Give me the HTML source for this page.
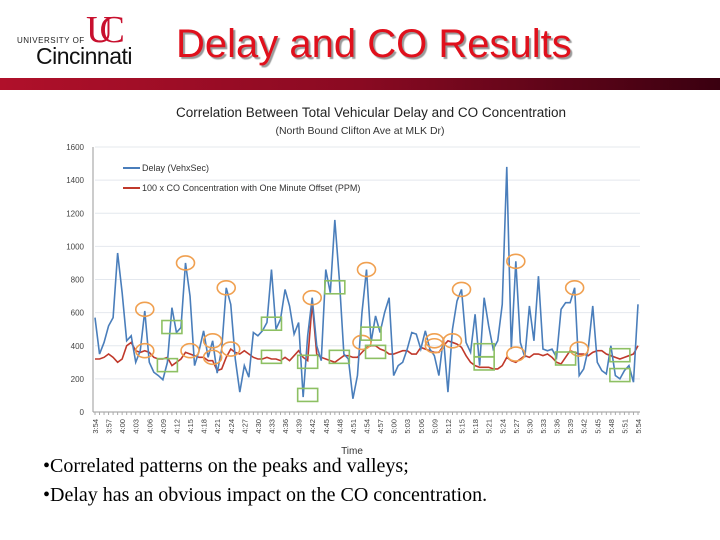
<!DOCTYPE html>
<html><head><meta charset="utf-8">
<style>
body{margin:0;width:720px;height:540px;background:#fff;overflow:hidden;position:relative;font-family:"Liberation Sans",sans-serif}
.abs{position:absolute}
</style></head><body>
<div class="abs" style="left:17px;top:36px;font-size:8px;letter-spacing:0.5px;color:#222">UNIVERSITY OF</div>
<div class="abs" style="left:36px;top:43px;font-size:23px;color:#111;letter-spacing:-0.5px">Cincinnati</div>
<div class="abs" style="left:86px;top:8px;font-family:'Liberation Serif',serif;font-size:38px;color:#c8102e;letter-spacing:-14px">UC</div>
<div class="abs" style="left:176px;top:22px;font-size:40px;color:#e0101c;text-shadow:2px 2px 1px #999">Delay and CO Results</div>
<div class="abs" style="left:0;top:78px;width:720px;height:12px;background:linear-gradient(90deg,#b0102a,#8a0a22 50%,#3a0010)"></div>
<svg class="abs" style="left:0;top:0" width="720" height="540" id="chart"></svg>
<div class="abs" style="left:43px;top:455px;font-family:'Liberation Serif',serif;font-size:20px;color:#000">•Correlated patterns on the peaks and valleys;</div>
<div class="abs" style="left:43px;top:484px;font-family:'Liberation Serif',serif;font-size:20px;color:#000">•Delay has an obvious impact on the CO concentration.</div>
<script>
const delay=[570,350,420,520,570,960,720,430,460,300,
370,610,300,240,220,195,300,630,480,510,
900,700,280,370,490,330,430,235,380,750,
650,320,120,280,210,480,460,490,540,860,
500,560,740,640,470,540,90,460,690,400,
310,860,720,1160,800,350,320,80,220,600,
860,420,580,480,600,690,220,280,300,380,
480,470,380,490,380,340,220,450,120,500,
670,740,420,360,590,280,690,520,380,430,
650,1480,380,910,420,330,640,430,820,380,
370,380,330,620,660,660,750,220,260,380,
640,300,250,230,400,220,200,250,280,180,
650];
const co=[320,320,330,350,330,300,320,400,420,370,
360,370,360,330,320,320,330,280,300,320,
360,350,340,330,330,310,310,250,260,330,
380,360,350,370,350,330,320,320,330,320,
320,310,330,310,340,370,330,310,660,350,
330,320,310,300,320,340,340,330,330,360,
390,400,400,380,370,350,350,360,370,370,
350,350,390,380,370,360,360,400,430,420,
410,390,340,300,280,270,270,270,260,260,
280,330,310,300,320,340,330,350,350,340,
350,330,300,290,330,370,360,350,350,340,
360,370,370,350,340,330,320,330,340,350,
400];
const yTicks=[0,200,400,600,800,1000,1200,1400,1600];
const xTickLabels=["3:54","3:57","4:00","4:03","4:06","4:09","4:12","4:15","4:18","4:21","4:24","4:27","4:30","4:33","4:36","4:39","4:42","4:45","4:48","4:51","4:54","4:57","5:00","5:03","5:06","5:09","5:12","5:15","5:18","5:21","5:24","5:27","5:30","5:33","5:36","5:39","5:42","5:45","5:48","5:51","5:54"];
const circles=[[11,620],[20,900],[29,750],[48,690],[60,860],[81,740],[93,910],[106,750],[11,370],[21,370],[26,430],[26,330],[30,380],[59,420],[75,400],[75,430],[79,430],[93,350],[107,380]];
const boxes=[[17,510],[16,280],[39,530],[39,330],[47,300],[47,100],[53,750],[54,330],[61,470],[62,360],[86,370],[86,290],[104,320],[116,340],[116,220]];
const NS="http://www.w3.org/2000/svg";
const svg=document.getElementById('chart');
const X0=95,X1=638,Y0=412,Y1=147,VMAX=1600;
const x=i=>X0+i*(X1-X0)/(delay.length-1);
const y=v=>Y0-v*(Y0-Y1)/VMAX;
function mk(t,a){const e=document.createElementNS(NS,t);for(const k in a)e.setAttribute(k,a[k]);svg.appendChild(e);return e;}
let t=mk('text',{x:371,y:117,'text-anchor':'middle','font-size':'13.5','fill':'#222'});t.textContent='Correlation Between Total Vehicular Delay and CO Concentration';


t=mk('text',{x:360,y:134,'text-anchor':'middle','font-size':'10.5','fill':'#333'});t.textContent='(North Bound Clifton Ave at MLK Dr)';


yTicks.forEach(v=>{
 if(v>0){const g=mk('line',{x1:X0,x2:640,y1:y(v),y2:y(v),stroke:'#e4e8ee','stroke-width':1});
 
 }
 const l=mk('text',{x:84,y:y(v)+3,'text-anchor':'end','font-size':'8','fill':'#444'});l.textContent=v;
 
 
});
let ax=mk('line',{x1:X0-2,x2:X0-2,y1:Y1,y2:Y0,stroke:'#999'});


ax=mk('line',{x1:X0-2,x2:640,y1:Y0,y2:Y0,stroke:'#999'});


for(let i=0;i<delay.length;i++){const tk=mk('line',{x1:x(i),x2:x(i),y1:Y0,y2:Y0+3,stroke:'#aaa'});
 
 }
xTickLabels.forEach((s,k)=>{const xi=x(k*3)+3;const l=mk('text',{x:xi,y:Y0+7,'font-size':'7.5','fill':'#444','text-anchor':'end',transform:`rotate(-90 ${xi} ${Y0+7})`});l.textContent=s;
 
 });
t=mk('text',{x:352,y:454,'text-anchor':'middle','font-size':'10','fill':'#333'});t.textContent='Time';


let p=mk('polyline',{points:co.map((v,i)=>x(i)+','+y(v)).join(' '),fill:'none',stroke:'#c0392b','stroke-width':1.6});


p=mk('polyline',{points:delay.map((v,i)=>x(i)+','+y(v)).join(' '),fill:'none',stroke:'#4a7ebb','stroke-width':1.6});


circles.forEach(c=>{const e=mk('ellipse',{cx:x(c[0]),cy:y(c[1]),rx:9,ry:7,fill:'none',stroke:'#f0a050','stroke-width':1.6});
 
 });
boxes.forEach(b=>{const e=mk('rect',{x:x(b[0])-10,y:y(b[1])-7,width:20,height:13,fill:'none',stroke:'#8dc063','stroke-width':1.6});
 
 });
let lg=mk('line',{x1:123,x2:140,y1:168,y2:168,stroke:'#4a7ebb','stroke-width':2});


t=mk('text',{x:142,y:171,'font-size':'9','fill':'#333'});t.textContent='Delay (VehxSec)';


lg=mk('line',{x1:123,x2:140,y1:188,y2:188,stroke:'#c0392b','stroke-width':2});


t=mk('text',{x:142,y:191,'font-size':'9','fill':'#333'});t.textContent='100 x CO Concentration with One Minute Offset (PPM)';


</script>
</body></html>
